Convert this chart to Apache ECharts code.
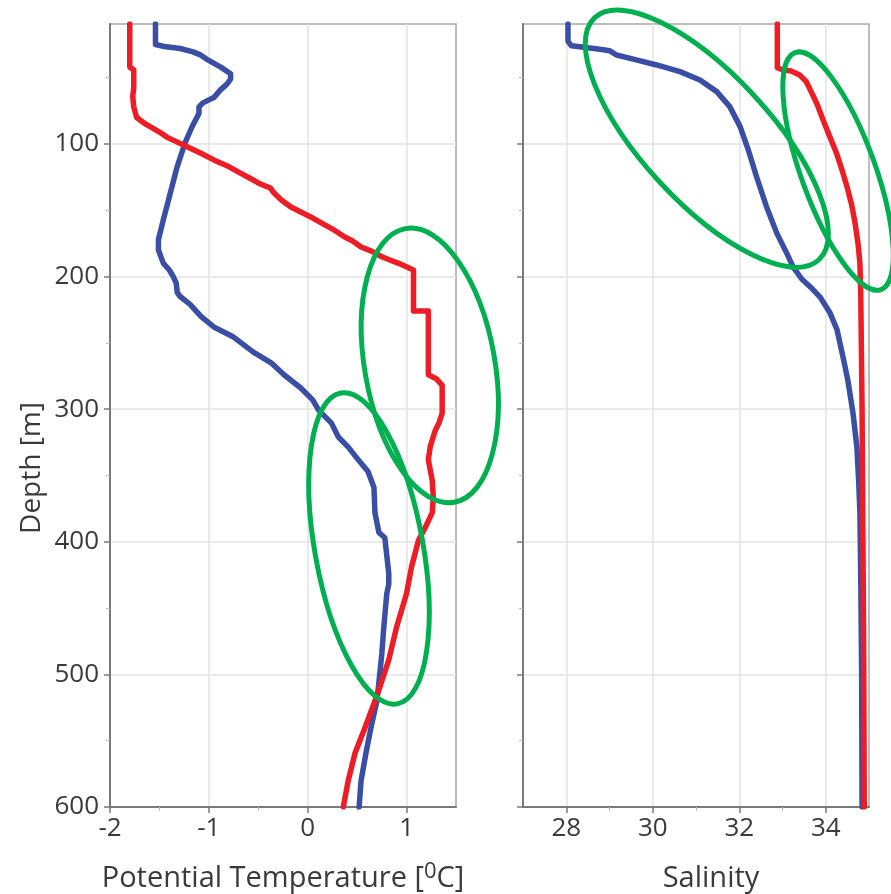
<!DOCTYPE html>
<html><head><meta charset="utf-8">
<script src="https://cdn.jsdelivr.net/npm/echarts@6/dist/echarts.min.js"></script>
<style>html,body{margin:0;padding:0;background:#fff}#c{width:891px;height:894px}</style>
</head><body><div id="c"></div>
<script>
// ---- tick values ----
const depthTicks = [100, 200, 300, 400, 500, 600];
const depthMinorTicks = [50, 150, 250, 350, 450, 550];
const tempTicks = [-2, -1, 0, 1];
const tempMinorTicks = [-1.5, -0.5, 0.5];
const salTicks = [28, 30, 32, 34];
const salMinorTicks = [29, 31, 33];

// ---- data: [value, depth m] ----
const tempBlue = [[-1.54,9.5],[-1.54,25],[-1.45,26.5],[-1.29,28],[-1.16,30.5],[-1.08,33],[-1.01,36.6],[-0.88,42],[-0.78,47],[-0.78,51],[-0.82,55],[-0.88,59],[-0.95,65],[-1.06,69],[-1.10,72],[-1.10,77],[-1.17,87],[-1.24,99],[-1.32,117],[-1.39,137],[-1.46,157],[-1.51,172],[-1.51,180],[-1.46,190],[-1.40,195],[-1.36,200],[-1.33,205],[-1.32,212],[-1.29,215],[-1.19,221],[-1.08,230],[-0.95,238],[-0.75,245.6],[-0.55,257],[-0.37,265],[-0.24,274],[-0.07,284],[0.05,293],[0.11,300.7],[0.24,310.5],[0.31,321],[0.41,328.6],[0.51,338],[0.61,347],[0.67,359],[0.68,378],[0.72,393],[0.78,397],[0.82,424],[0.82,432],[0.80,439],[0.77,464],[0.75,484],[0.73,499],[0.70,520],[0.64,540],[0.59,559],[0.54,580],[0.52,600]];
const tempRed = [[-1.80,9.5],[-1.80,42],[-1.76,44],[-1.76,58],[-1.77,64],[-1.76,72],[-1.73,80],[-1.66,84],[-1.59,87],[-1.50,91],[-1.42,95],[-1.22,102],[-1.08,107],[-0.95,112],[-0.80,117],[-0.68,122],[-0.58,126],[-0.51,129],[-0.42,132],[-0.38,133],[-0.34,137],[-0.27,142],[-0.17,147.5],[-0.05,152],[0.03,155],[0.15,160],[0.27,165],[0.37,170],[0.45,173],[0.54,177.7],[0.65,181],[0.75,185],[0.85,188],[0.92,190],[1.07,195],[1.07,226],[1.22,226],[1.22,274],[1.30,277],[1.36,282],[1.36,303],[1.33,310],[1.29,316],[1.24,328],[1.22,338],[1.24,346],[1.26,354],[1.27,366],[1.26,378],[1.19,389],[1.12,399],[1.05,419],[1.00,439],[0.90,464],[0.82,489],[0.71,514],[0.58,540],[0.48,559],[0.41,580],[0.36,600]];
const salBlue = [[28.04,9.5],[28.04,22.6],[28.12,25.9],[28.78,28.6],[29.0,29.6],[29.16,32.9],[29.55,36],[30.09,40.4],[30.63,45.4],[31.09,51.7],[31.48,60.5],[31.78,71.8],[32.02,86.9],[32.21,104.5],[32.4,124.7],[32.63,147.3],[32.87,167.4],[33.1,182.5],[33.25,193],[33.45,202],[33.65,208],[33.87,215.5],[34.1,227.5],[34.26,240],[34.4,260.7],[34.51,278],[34.63,303],[34.72,328.6],[34.76,353.5],[34.79,378],[34.81,429],[34.83,500],[34.84,600]];
const salRed = [[32.88,9.5],[32.88,42.5],[33.0,44],[33.2,45],[33.4,48],[33.55,53],[33.64,59],[33.8,70],[33.94,82],[34.1,95],[34.25,107],[34.38,120],[34.49,132],[34.6,146],[34.68,160],[34.75,176],[34.79,190],[34.81,215],[34.84,300],[34.86,400],[34.88,500],[34.89,600]];

// ---- annotation ellipses: centre in data units, radii px, tilt deg ----
const ellipseGrid = [0, 0, 1, 1];
const ellipseCenter = [[1.235, 267], [0.62, 405], [31.25, 96], [34.285, 120.4]];
const ellipseRadii = [[65, 139], [54, 158], [64, 165], [37, 126]];
const ellipseTilt = [10.1, 10.3, 42.8, 19.9];

const FONT = 'Open Sans';
const TXT = '#3a3a3a';
const AX = '#7a7a7a';
const GRIDC = '#e3e3e3';
const BLUE = '#3a4ea6';
const RED = '#ee1c25';
const GREEN = '#00b050';

function mainX(grid, min, max, ticks, name, nameStyle) {
  return {
    type: 'value', gridIndex: grid, min: min, max: max, position: 'bottom',
    axisLine: { show: true, onZero: false, lineStyle: { color: AX, width: 2 } },
    axisTick: { show: true, customValues: ticks, length: 6, lineStyle: { color: AX, width: 1.5 } },
    axisLabel: { customValues: ticks, fontSize: 26, color: TXT, margin: 9, fontFamily: FONT },
    splitLine: { show: true, lineStyle: { color: GRIDC, width: 1.5 } },
    name: name, nameLocation: 'middle', nameGap: 54, nameTextStyle: nameStyle
  };
}
function minorX(grid, min, max, ticks) {
  return {
    type: 'value', gridIndex: grid, min: min, max: max, position: 'bottom',
    axisLine: { show: false, onZero: false },
    axisTick: { show: true, customValues: ticks, length: 4, lineStyle: { color: '#bbb', width: 1 } },
    axisLabel: { show: false }, splitLine: { show: false }
  };
}
function mainY(grid, showLabel) {
  return {
    type: 'value', gridIndex: grid, inverse: true, min: 9.5, max: 600, position: 'left',
    axisLine: { show: true, onZero: false, lineStyle: { color: AX, width: 2 } },
    axisTick: { show: true, customValues: depthTicks, length: 6, lineStyle: { color: AX, width: 1.5 } },
    axisLabel: { show: showLabel, customValues: depthTicks, fontSize: 26, color: TXT, margin: 11, fontFamily: FONT },
    splitLine: { show: true, lineStyle: { color: GRIDC, width: 1.5 } }
  };
}
function minorY(grid) {
  return {
    type: 'value', gridIndex: grid, inverse: true, min: 9.5, max: 600, position: 'left',
    axisLine: { show: false, onZero: false },
    axisTick: { show: true, customValues: depthMinorTicks, length: 4, lineStyle: { color: '#bbb', width: 1 } },
    axisLabel: { show: false }, splitLine: { show: false }
  };
}
function line(data, color, xi, yi) {
  return {
    type: 'line', data: data, xAxisIndex: xi, yAxisIndex: yi, symbol: 'none',
    lineStyle: { color: color, width: 5.5, cap: 'round', join: 'round' }, z: 3
  };
}

const chart = echarts.init(document.getElementById('c'), null, { renderer: 'canvas' });
chart.setOption({
  animation: false,
  backgroundColor: '#fff',
  grid: [
    { left: 110, top: 24, width: 346, height: 783, containLabel: false, outerBoundsMode: 'none', show: true, borderColor: '#a8a8a8', borderWidth: 1.5, backgroundColor: 'transparent' },
    { left: 523, top: 24, width: 346, height: 783, containLabel: false, outerBoundsMode: 'none', show: true, borderColor: '#a8a8a8', borderWidth: 1.5, backgroundColor: 'transparent' }
  ],
  xAxis: [
    mainX(0, -2, 1.5, tempTicks, '{a|Potential Temperature [}{s|0}{a|C]}', {
      rich: {
        a: { fontSize: 29, color: TXT, fontFamily: FONT, lineHeight: 36 },
        s: { fontSize: 22, color: TXT, fontFamily: FONT, lineHeight: 12, verticalAlign: 'top' }
      }
    }),
    minorX(0, -2, 1.5, tempMinorTicks),
    mainX(1, 27, 35, salTicks, 'Salinity', { fontSize: 29, color: TXT, fontFamily: FONT, lineHeight: 36, padding: [0, 0, 0, 30] }),
    minorX(1, 27, 35, salMinorTicks)
  ],
  yAxis: [mainY(0, true), minorY(0), mainY(1, false), minorY(1)],
  series: [
    line(tempBlue, BLUE, 0, 0),
    line(tempRed, RED, 0, 0),
    line(salBlue, BLUE, 2, 2),
    line(salRed, RED, 2, 2)
  ]
});

const graphics = [{
  type: 'text', x: 32, y: 468, rotation: Math.PI / 2,
  style: { text: 'Depth [m]', fontSize: 28, fill: TXT, fontFamily: FONT, align: 'center', verticalAlign: 'middle' }
}];
for (let i = 0; i < ellipseCenter.length; i++) {
  const g = ellipseGrid[i];
  const p = chart.convertToPixel({ xAxisIndex: g * 2, yAxisIndex: g * 2 }, ellipseCenter[i]);
  graphics.push({
    type: 'ellipse', x: p[0], y: p[1], rotation: ellipseTilt[i] * Math.PI / 180, z: 100,
    shape: { cx: 0, cy: 0, rx: ellipseRadii[i][0], ry: ellipseRadii[i][1] },
    style: { fill: 'none', stroke: GREEN, lineWidth: 5 }
  });
}
chart.setOption({ graphic: graphics });
</script>
</body></html>
